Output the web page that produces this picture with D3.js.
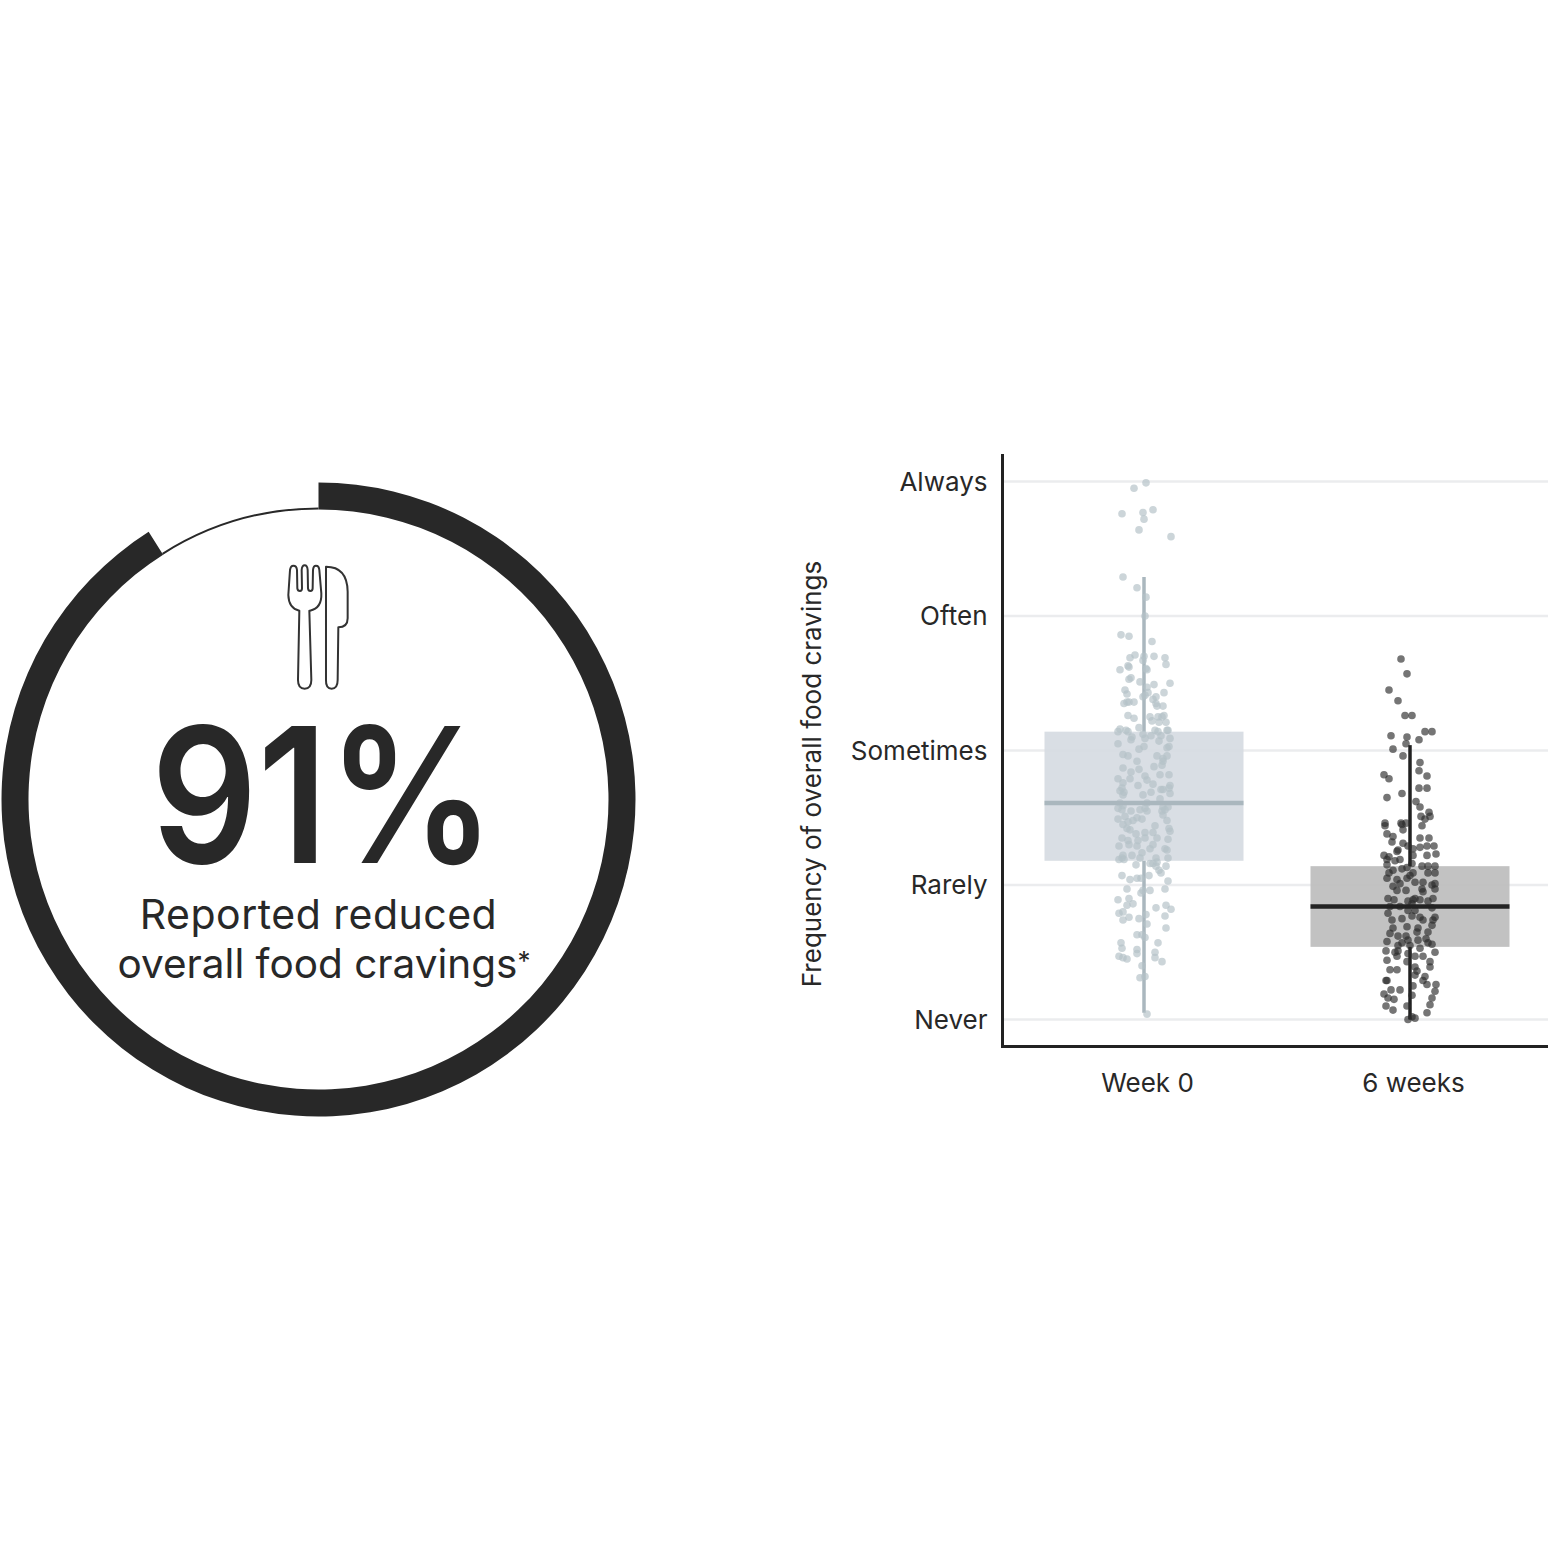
<!DOCTYPE html>
<html>
<head>
<meta charset="utf-8">
<script src="https://d3js.org/d3.v7.min.js"></script>
<style>
  html, body { margin: 0; padding: 0; background: #fff; }
  text { font-family: "Inter", "Noto Sans", sans-serif; fill: #282828; }
</style>
</head>
<body>
<div id="my_dataviz"></div>
<script>
const ringShares = [91, 9];
const bigNumber = "91%";
const ringLabel = ["Reported reduced", "overall food cravings"];

const yLevels = ["Never", "Rarely", "Sometimes", "Often", "Always"];
const groups = ["Week 0", "6 weeks"];
const yTitle = "Frequency of overall food cravings";

// box stats, on the 0 (Never) to 4 (Always) scale
const boxLow = [1.18, 0.54];
const boxMid = [1.61, 0.84];
const boxHigh = [2.14, 1.14];
const whiskerLow = [0.05, 0.0];
const whiskerHigh = [3.29, 2.04];

// [jitter, frequency]
const week0Points = [[2,3.99],[-10,3.95],[-22,3.76],[-1,3.77],[9,3.79],[0,3.72],[-5,3.64],[27,3.59],
  [-21,3.29],[-7,3.21],[2,3.14],[1,3.00],[-23,2.86],[-15,2.85],[8,2.81],[-9,2.71],[-14,2.69],[0,2.70],
  [10,2.70],[21,2.69],[-1,2.67],[22,2.64],[-16,2.63],[-15,2.62],[-24,2.60],[2,2.61],[3,2.60],[-13,2.54],
  [-15,2.53],[-4,2.51],[10,2.49],[26,2.50],[3,2.47],[-19,2.45],[-17,2.42],[4,2.43],[12,2.40],[20,2.43],
  [-1,2.40],[1,2.41],[9,2.38],[-20,2.35],[-17,2.36],[-15,2.36],[-10,2.36],[12,2.35],[13,2.33],[19,2.33],
  [-16,2.26],[-10,2.24],[6,2.25],[8,2.22],[14,2.25],[20,2.26],[15,2.21],[22,2.21],[18,2.25],[-5,2.17],
  [-24,2.16],[-26,2.14],[-18,2.15],[-16,2.14],[11,2.15],[14,2.14],[24,2.15],[23,2.15],[-1,2.12],[7,2.11],
  [17,2.11],[-12,2.10],[-13,2.08],[1,2.09],[26,2.09],[15,2.07],[-26,2.05],[0,2.03],[-5,2.01],[25,2.03],
  [23,2.02],[-21,1.97],[-16,1.96],[13,1.96],[23,1.96],[19,1.94],[-7,1.92],[19,1.92],[10,1.88],[18,1.89],
  [-21,1.87],[-5,1.86],[-13,1.84],[16,1.82],[25,1.82],[1,1.81],[-26,1.79],[-14,1.79],[3,1.78],[-21,1.76],
  [-6,1.74],[9,1.75],[26,1.74],[19,1.71],[-22,1.72],[17,1.71],[25,1.72],[-24,1.70],[-20,1.69],[7,1.69],
  [26,1.68],[-1,1.67],[-21,1.67],[16,1.64],[-24,1.61],[-21,1.59],[3,1.61],[-4,1.56],[1,1.57],[19,1.58],
  [24,1.58],[-26,1.57],[-22,1.56],[-13,1.55],[3,1.55],[18,1.55],[21,1.56],[19,1.52],[-26,1.49],[-19,1.51],
  [-7,1.50],[-2,1.49],[23,1.48],[-16,1.47],[-11,1.48],[-21,1.45],[-17,1.42],[-14,1.41],[11,1.44],[25,1.42],
  [26,1.40],[1,1.39],[-8,1.38],[9,1.39],[13,1.35],[-22,1.35],[-16,1.33],[1,1.35],[-6,1.33],[24,1.34],
  [-15,1.30],[-25,1.29],[-7,1.29],[9,1.30],[6,1.27],[21,1.27],[23,1.26],[-2,1.24],[-4,1.20],[-12,1.22],
  [-21,1.22],[-22,1.20],[-25,1.19],[-20,1.19],[12,1.20],[24,1.20],[6,1.16],[13,1.17],[9,1.16],[22,1.14],
  [-8,1.15],[12,1.14],[15,1.11],[17,1.09],[-22,1.07],[5,1.07],[24,1.03],[-14,1.04],[-7,1.05],[-3,1.05],
  [-17,0.97],[21,0.97],[-1,0.96],[6,0.96],[-3,0.94],[-26,0.89],[-15,0.90],[-11,0.86],[-17,0.85],[12,0.83],
  [22,0.85],[27,0.82],[-25,0.79],[-21,0.80],[-15,0.76],[-21,0.74],[-5,0.75],[2,0.78],[21,0.77],[3,0.71],
  [22,0.68],[-7,0.63],[-2,0.63],[1,0.61],[14,0.57],[-23,0.57],[-22,0.53],[-7,0.52],[-7,0.49],[11,0.50],
  [-25,0.47],[-21,0.46],[-17,0.45],[11,0.46],[18,0.43],[-2,0.40],[-4,0.31],[1,0.32],[3,0.04]];

const week6Points = [[-9,2.68],[-3,2.57],[-21,2.45],[-12,2.37],[-5,2.26],[2,2.26],[15,2.14],[22,2.14],
  [-19,2.11],[-3,2.10],[9,2.08],[-4,2.05],[-17,2.01],[-7,1.96],[10,1.91],[9,1.85],[-26,1.82],[-21,1.79],
  [17,1.81],[9,1.72],[17,1.72],[-8,1.68],[-23,1.65],[6,1.62],[10,1.58],[19,1.54],[11,1.51],[15,1.49],
  [20,1.51],[-25,1.46],[-25,1.44],[-9,1.46],[-8,1.45],[-4,1.46],[12,1.44],[-7,1.41],[-23,1.38],[-17,1.36],
  [-18,1.32],[10,1.35],[19,1.35],[-7,1.31],[-12,1.26],[10,1.28],[17,1.29],[24,1.29],[-2,1.29],[3,1.27],
  [-13,1.25],[-26,1.22],[-21,1.21],[17,1.22],[26,1.23],[3,1.22],[-23,1.19],[-23,1.15],[-15,1.18],[-10,1.19],
  [2,1.16],[12,1.14],[18,1.14],[25,1.14],[-3,1.13],[-8,1.12],[-17,1.11],[-21,1.09],[18,1.09],[25,1.09],
  [3,1.09],[0,1.07],[-23,1.05],[-13,1.04],[-3,1.05],[-10,1.01],[5,1.02],[13,1.02],[25,1.01],[22,1.00],
  [-17,0.99],[-13,0.96],[-4,0.96],[12,0.97],[25,0.97],[5,0.90],[13,0.95],[-22,0.90],[-16,0.89],[3,0.89],
  [-2,0.88],[10,0.89],[23,0.90],[18,0.88],[2,0.86],[-20,0.84],[-10,0.84],[22,0.83],[-2,0.81],[5,0.81],
  [-22,0.79],[10,0.76],[-8,0.75],[25,0.76],[23,0.74],[-18,0.74],[2,0.77],[13,0.74],[22,0.70],[-3,0.69],
  [-17,0.68],[8,0.68],[-20,0.64],[7,0.65],[18,0.65],[-4,0.62],[-12,0.62],[16,0.60],[-23,0.58],[-8,0.57],
  [-2,0.59],[8,0.59],[22,0.56],[18,0.57],[-12,0.55],[0,0.55],[10,0.53],[-24,0.51],[-12,0.51],[-15,0.50],
  [-13,0.47],[-2,0.49],[5,0.47],[13,0.47],[25,0.50],[-23,0.44],[-3,0.43],[20,0.43],[5,0.39],[20,0.39],
  [-20,0.37],[-13,0.37],[7,0.36],[-24,0.29],[-23,0.29],[5,0.33],[15,0.32],[13,0.29],[17,0.26],[26,0.26],
  [3,0.25],[-19,0.22],[-10,0.22],[25,0.21],[2,0.18],[-26,0.19],[-22,0.16],[-16,0.15],[22,0.16],[-3,0.10],
  [20,0.11],[-24,0.10],[-17,0.07],[17,0.05],[2,0.02],[-2,0.00],[5,0.01]];

const groupPoints = [week0Points, week6Points];
const dotColor = ["#b4c1c7", "#2b2b2b"];
const boxColor = ["#d6dbe2", "#bdbdbd"];
const lineColor = ["#aab7be", "#222222"];
const ink = "#282828";

const svg = d3.select("#my_dataviz")
  .append("svg")
  .attr("width", 1563)
  .attr("height", 1563);

drawRing();
drawChart();

function drawRing() {
  const g = svg.append("g").attr("transform", "translate(318.5,799.5)");

  // thick arc = 91%, hairline = the rest
  const pie = d3.pie().sort(null)(ringShares);
  g.append("path")
    .attr("d", d3.arc().innerRadius(290).outerRadius(317)(pie[0]))
    .attr("fill", ink);
  g.append("path")
    .attr("d", d3.arc().innerRadius(290).outerRadius(292)(pie[1]))
    .attr("fill", ink);

  // fork and knife icon
  const icon = g.append("g")
    .attr("transform", "translate(-48.5,-249.5) scale(0.3333)")
    .attr("fill", "none")
    .attr("stroke", "#333")
    .attr("stroke-width", 6)
    .attr("stroke-linejoin", "round");
  icon.append("path").attr("d", "M60,60 Q62,47 70,47 Q80,47 81,60 L82,115 Q83,123 90,123 Q96,123 96,115 L95,60 Q96,46 104,46 Q112,46 113,60 L114,115 Q115,123 121,123 Q128,123 128,115 L129,60 Q130,47 138,47 Q147,47 148,60 L154,130 Q156,175 120,182 L118,182 L124,390 Q124,416 104,416 Q84,416 84,390 L88,182 Q56,175 55,135 Z");
  icon.append("path").attr("d", "M168,50 Q232,50 233,125 L233,205 Q233,232 205,232 L203,390 Q203,416 185,416 Q167,416 168,390 Z");

  g.append("text")
    .attr("x", 4.5)
    .attr("y", 63)
    .attr("text-anchor", "middle")
    .attr("textLength", 344)
    .attr("lengthAdjust", "spacingAndGlyphs")
    .style("font-size", "188px")
    .style("font-weight", 600)
    .text(bigNumber);

  const lines = g.selectAll(".ringLabel")
    .data(ringLabel)
    .join("text")
    .attr("class", "ringLabel")
    .attr("x", (d, i) => i == 0 ? 0 : 5.5)
    .attr("y", (d, i) => 129 + i * 49)
    .attr("text-anchor", "middle")
    .style("font-size", (d, i) => i == 0 ? "41px" : "40.5px")
    .text(d => d);
  lines.filter((d, i) => i == 0).style("letter-spacing", "0.5px");

  // small raised asterisk on the second line
  lines.filter((d, i) => i == 1)
    .append("tspan")
    .attr("dy", -8)
    .style("font-size", "26px")
    .text("*");
}

function drawChart() {
  const y = d3.scaleLinear().domain([0, 4]).range([1019.5, 481.5]);
  const x = d3.scalePoint().domain(groups).range([1144, 1410]);
  const jitter = d3.scaleLinear().domain([-30, 30]).range([-30, 30]);
  const boxHalf = 99.5;

  // grid
  svg.append("g").selectAll("line")
    .data(yLevels)
    .join("line")
    .attr("x1", 1004)
    .attr("x2", 1548)
    .attr("y1", (d, i) => y(i))
    .attr("y2", (d, i) => y(i))
    .attr("stroke", "#ebecee")
    .attr("stroke-width", 2.5);

  groups.forEach(function (name, i) {
    const cx = x(name);
    const g = svg.append("g");

    g.append("rect")
      .attr("x", cx - boxHalf)
      .attr("width", boxHalf * 2)
      .attr("y", y(boxHigh[i]))
      .attr("height", y(boxLow[i]) - y(boxHigh[i]))
      .attr("fill", boxColor[i])
      .attr("fill-opacity", 0.92);

    [[whiskerHigh[i], boxHigh[i]], [boxLow[i], whiskerLow[i]]].forEach(function (w) {
      g.append("line")
        .attr("x1", cx).attr("x2", cx)
        .attr("y1", y(w[0])).attr("y2", y(w[1]))
        .attr("stroke", lineColor[i])
        .attr("stroke-width", 3.5);
    });

    g.selectAll("circle")
      .data(groupPoints[i])
      .join("circle")
      .attr("cx", d => cx + jitter(d[0]))
      .attr("cy", d => y(d[1]))
      .attr("r", 3.8)
      .attr("fill", dotColor[i])
      .attr("fill-opacity", i == 0 ? 0.68 : 0.65);

    g.append("line")
      .attr("x1", cx - boxHalf).attr("x2", cx + boxHalf)
      .attr("y1", y(boxMid[i])).attr("y2", y(boxMid[i]))
      .attr("stroke", lineColor[i])
      .attr("stroke-width", 4.5);
  });

  // axes
  const yAxis = svg.append("g")
    .attr("transform", "translate(1002.5,0)")
    .call(d3.axisLeft(y).tickValues([0, 1, 2, 3, 4]).tickFormat(d => yLevels[d]).tickSize(0).tickPadding(15));
  yAxis.select(".domain").remove();
  yAxis.selectAll("text")
    .attr("dy", "0.34em")
    .style("font-size", "26px")
    .style("font-family", '"Inter", "Noto Sans", sans-serif')
    .attr("fill", ink);

  const xAxis = svg.append("g")
    .attr("transform", "translate(0,1046)")
    .call(d3.axisBottom(x).tickSize(0).tickPadding(28));
  xAxis.select(".domain").remove();
  xAxis.selectAll("text")
    .attr("dx", 3)
    .style("font-size", "26px")
    .style("font-family", '"Inter", "Noto Sans", sans-serif')
    .attr("fill", ink);

  svg.append("path")
    .attr("d", "M1002.5,454 V1046.5 H1548")
    .attr("fill", "none")
    .attr("stroke", "#222")
    .attr("stroke-width", 3);

  svg.append("text")
    .attr("transform", "translate(821,774) rotate(-90)")
    .attr("text-anchor", "middle")
    .style("font-size", "26px")
    .text(yTitle);
}
</script>
</body>
</html>
